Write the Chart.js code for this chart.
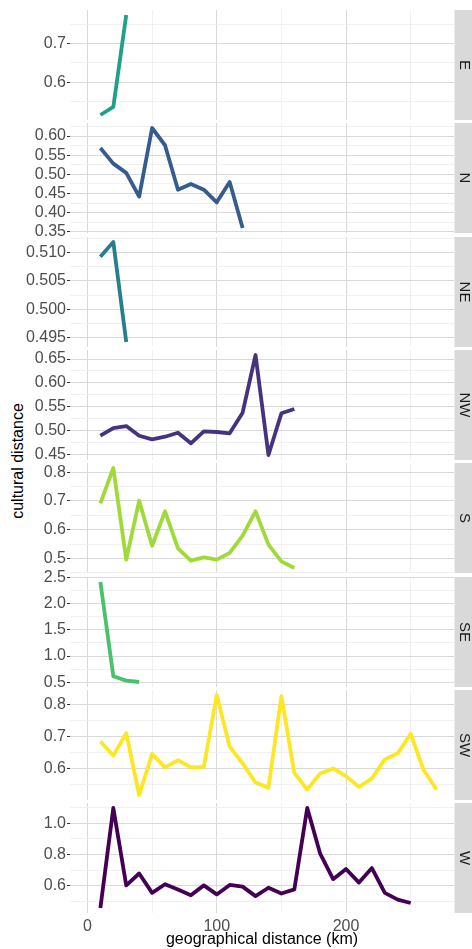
<!DOCTYPE html>
<html>
<head>
<meta charset="utf-8">
<script src="https://cdn.jsdelivr.net/npm/chart.js@4.4.0/dist/chart.umd.min.js"></script>
<style>
  html, body { margin: 0; padding: 0; background: #fff; }
  #wrap { position: relative; width: 472px; height: 949px; overflow: hidden; font-family: "Liberation Sans", Arial, sans-serif; }
  .panel { position: absolute; left: 0; width: 472px; }
  .panel canvas { display: block; }
  #ytitle { position: absolute; left: 18px; top: 461px; transform: translate(-50%, -50%) rotate(-90deg);
            white-space: nowrap; font-size: 16px; color: #000; }
</style>
</head>
<body>
<div id="wrap"><div id="ytitle">cultural distance</div></div>
<script>
// geographical distance bins (km)
const distanceKm = [10, 20, 30, 40, 50, 60, 70, 80, 90, 100, 110, 120, 130, 140,
                    150, 160, 170, 180, 190, 200, 210, 220, 230, 240, 250, 260, 270];

// facets, top to bottom
const directions = ['E', 'N', 'NE', 'NW', 'S', 'SE', 'SW', 'W'];

// cultural distance per direction
const valuesE  = [0.515, 0.536, 0.774];
const valuesN  = [0.569, 0.528, 0.504, 0.442, 0.621, 0.576, 0.460, 0.475, 0.460, 0.427, 0.480, 0.360];
const valuesNE = [0.5093, 0.5119, 0.4942];
const valuesNW = [0.4895, 0.5056, 0.5098, 0.4895, 0.482, 0.4875, 0.4958, 0.4736, 0.4987, 0.4973,
                  0.4946, 0.5377, 0.6584, 0.4492, 0.5364, 0.5454];
const valuesS  = [0.692, 0.815, 0.4955, 0.701, 0.544, 0.664, 0.535, 0.492, 0.5035, 0.4955,
                  0.519, 0.579, 0.664, 0.548, 0.4896, 0.4665];
const valuesSE = [2.41, 0.615, 0.532, 0.506];
const valuesSW = [0.685, 0.641, 0.711, 0.518, 0.646, 0.604, 0.627, 0.604, 0.606, 0.830,
                  0.669, 0.617, 0.557, 0.541, 0.826, 0.587, 0.535, 0.585, 0.601, 0.577,
                  0.543, 0.570, 0.629, 0.648, 0.709, 0.596, 0.535];
const valuesW  = [0.457, 1.098, 0.602, 0.678, 0.554, 0.609, 0.576, 0.539, 0.602, 0.544,
                  0.605, 0.594, 0.533, 0.587, 0.550, 0.576, 1.098, 0.805, 0.642, 0.707,
                  0.620, 0.713, 0.554, 0.511, 0.489];

// tick labels
const xTicks = [0, 50, 100, 150, 200, 250];
const xTickLabels = [0, 100, 200];
const yTickStep = { E: 0.1, N: 0.05, NE: 0.005, NW: 0.05, S: 0.1, SE: 0.5, SW: 0.1, W: 0.2 };
const yTickDecimals = { E: 1, N: 2, NE: 3, NW: 2, S: 1, SE: 1, SW: 1, W: 1 };

const seriesValues = { E: valuesE, N: valuesN, NE: valuesNE, NW: valuesNW, S: valuesS, SE: valuesSE, SW: valuesSW, W: valuesW };
const seriesColors = { E: '#1FA187', N: '#365C8D', NE: '#277F8E', NW: '#46337E', S: '#9FDA3A', SE: '#4AC16D', SW: '#FDE725', W: '#440154' };

const tickFont = { family: '"Liberation Sans", Arial, sans-serif', size: 16 };
const majorGrid = '#D9D9D9';
const minorGrid = '#EEEEEE';
const margin = 10; // room so edge tick labels are not cut off

const stripPlugin = {
    id: 'strip',
    afterDraw(chart, args, opts) {
        const { ctx, chartArea } = chart;
        ctx.save();
        ctx.fillStyle = '#D9D9D9';
        ctx.fillRect(chartArea.right + 0.5, chartArea.top, chart.width - chartArea.right, chartArea.bottom - chartArea.top);
        ctx.translate(chartArea.right + 10.5, (chartArea.top + chartArea.bottom) / 2);
        ctx.rotate(Math.PI / 2);
        ctx.font = '15px "Liberation Sans", Arial, sans-serif';
        ctx.fillStyle = '#1A1A1A';
        ctx.textAlign = 'center';
        ctx.textBaseline = 'middle';
        ctx.fillText(opts.label, 0, 0);
        ctx.restore();
    }
};

function isMultiple(v, step) {
    const r = v / step;
    return Math.abs(r - Math.round(r)) < 1e-6;
}

function noPadding(s) {
    s.paddingTop = 0;
    s.paddingBottom = 0;
    s.paddingLeft = 0;
    s.paddingRight = 0;
}

function makePanel(i) {
    const key = directions[i];
    const vals = seriesValues[key];
    const step = yTickStep[key];
    const isLast = i === directions.length - 1;
    const top = Math.round(10 + i * 113.3) - margin;
    const height = isLast ? 949 - top : 110 + 2 * margin;

    const div = document.createElement('div');
    div.className = 'panel';
    div.style.top = top + 'px';
    div.style.height = height + 'px';
    const canvas = document.createElement('canvas');
    canvas.width = 472;
    canvas.height = height;
    div.appendChild(canvas);
    document.getElementById('wrap').appendChild(div);

    const lo = Math.min(...vals), hi = Math.max(...vals);
    const pad = (hi - lo) * 0.05;

    new Chart(canvas, {
        type: 'line',
        data: {
            datasets: [{
                data: vals.map((v, j) => ({ x: distanceKm[j], y: v })),
                borderColor: seriesColors[key],
                borderWidth: 3.8,
                borderJoinStyle: 'round',
                pointRadius: 0,
                tension: 0,
                fill: false
            }]
        },
        options: {
            responsive: false,
            animation: false,
            layout: { padding: { left: 0, right: 18, top: margin, bottom: isLast ? 0 : margin }, autoPadding: false },
            plugins: {
                legend: { display: false },
                tooltip: { enabled: false },
                strip: { label: key }
            },
            scales: {
                x: {
                    type: 'linear',
                    min: -13.5,
                    max: 283.5,
                    afterBuildTicks: s => { s.ticks = xTicks.map(v => ({ value: v })); },
                    afterFit: s => { s.height = isLast ? 36 : 0; noPadding(s); },
                    ticks: {
                        display: isLast,
                        autoSkip: false,
                        maxRotation: 0,
                        padding: 1,
                        color: '#4D4D4D',
                        font: tickFont,
                        callback: v => xTickLabels.includes(v) ? String(v) : ''
                    },
                    grid: {
                        color: c => (c.tick && c.tick.value % 100 === 0) ? majorGrid : minorGrid,
                        lineWidth: c => (c.tick && c.tick.value % 100 === 0) ? 1 : 0.8,
                        drawTicks: isLast,
                        tickLength: 3,
                        tickColor: 'transparent'
                    },
                    border: { display: false },
                    title: {
                        display: isLast,
                        text: 'geographical distance (km)',
                        color: '#000',
                        font: { family: '"Liberation Sans", Arial, sans-serif', size: 16 },
                        padding: { top: 0, bottom: 0 }
                    }
                },
                y: {
                    type: 'linear',
                    min: lo - pad,
                    max: hi + pad,
                    afterBuildTicks: s => {
                        const half = step / 2;
                        const a = Math.ceil(s.min / half - 1e-9), b = Math.floor(s.max / half + 1e-9);
                        const t = [];
                        for (let k = a; k <= b; k++) t.push({ value: +(k * half).toFixed(6) });
                        s.ticks = t;
                    },
                    afterFit: s => { s.width = 70; noPadding(s); },
                    ticks: {
                        autoSkip: false,
                        padding: 1,
                        color: '#4D4D4D',
                        font: tickFont,
                        callback: v => isMultiple(v, step) ? v.toFixed(yTickDecimals[key]) : ''
                    },
                    grid: {
                        color: c => (c.tick && isMultiple(c.tick.value, step)) ? majorGrid : minorGrid,
                        lineWidth: c => (c.tick && isMultiple(c.tick.value, step)) ? 1 : 0.8,
                        tickLength: 3,
                        tickColor: c => (c.tick && isMultiple(c.tick.value, step)) ? '#333333' : 'transparent'
                    },
                    border: { display: false }
                }
            }
        },
        plugins: [stripPlugin]
    });
}

directions.forEach((d, i) => makePanel(i));
</script>
</body>
</html>
